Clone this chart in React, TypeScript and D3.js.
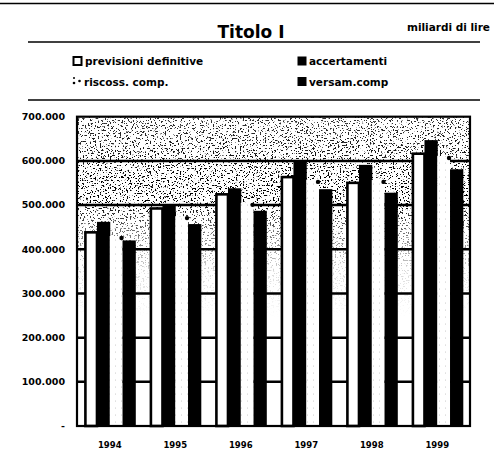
import React from "react";
import * as d3 from "d3";

const years = ["1994", "1995", "1996", "1997", "1998", "1999"];
const previsioni = [441, 495, 527, 566, 553, 619];
const accertamenti = [462, 501, 538, 598, 591, 647];
const riscossioni = [430, 475, 505, 557, 557, 611];
const versamenti = [420, 457, 487, 536, 528, 581];
const seriesNames = ["previsioni definitive", "accertamenti", "riscoss. comp.", "versam.comp"];
const yTicks = [0, 100, 200, 300, 400, 500, 600, 700];
const yTickLabels = ["-", "100.000", "200.000", "300.000", "400.000", "500.000", "600.000", "700.000"];

const W = 494;
const H = 463;
const FONT = "'DejaVu Sans', 'Liberation Sans', sans-serif";

export default function App() {
  const left = 77, right = 470, top = 116.7, bottom = 426;
  const x0 = d3.scaleBand<string>().domain(years).range([left, right]).paddingInner(0.22).paddingOuter(0.11);
  const x1 = d3.scaleBand<number>().domain([0, 1, 2, 3]).range([0, x0.bandwidth()]);
  const y = d3.scaleLinear().domain([0, 700]).range([bottom, top]);
  const data = [previsioni, accertamenti, riscossioni, versamenti];

  return (
    <svg width={W} height={H} style={{ position: "absolute", left: 0, top: 0, background: "#fff" }} fontFamily={FONT}>
      <defs>
        <pattern id="dots" width="6" height="7" patternUnits="userSpaceOnUse">
          <rect width="6" height="7" fill="#fff" />
          <circle cx="1.5" cy="2" r="0.5" fill="#bbb" />
        </pattern>
        <filter id="speck" x="0" y="0" width="100%" height="100%">
          <feTurbulence type="fractalNoise" baseFrequency="0.6" numOctaves="3" seed="11" result="n" />
          <feColorMatrix in="n" type="matrix" values="0 0 0 0 0  0 0 0 0 0  0 0 0 0 0  20 0 0 0 -12" />
        </filter>
        <linearGradient id="fade" x1="0" y1="0" x2="0" y2="1">
          <stop offset="0" stopColor="#fff" stopOpacity="0.8" />
          <stop offset="0.2" stopColor="#fff" stopOpacity="1" />
          <stop offset="0.28" stopColor="#fff" stopOpacity="1" />
          <stop offset="0.36" stopColor="#fff" stopOpacity="0.6" />
          <stop offset="0.5" stopColor="#fff" stopOpacity="0.15" />
          <stop offset="0.65" stopColor="#fff" stopOpacity="0" />
          <stop offset="1" stopColor="#fff" stopOpacity="0" />
        </linearGradient>
        <mask id="fadeMask" maskUnits="userSpaceOnUse" x={left} y={top} width={right - left} height={bottom - top}>
          <rect x={left} y={top} width={right - left} height={bottom - top} fill="url(#fade)" />
        </mask>
      </defs>

      {/* header */}
      <line x1={0} x2={W} y1={3.5} y2={3.5} stroke="#000" strokeWidth={1.5} />
      <text x={251} y={38} textAnchor="middle" fontSize={17} fontWeight="bold">Titolo I</text>
      <text x={490} y={31} textAnchor="end" fontSize={10.5} fontWeight="bold">miliardi di lire</text>
      <line x1={28} x2={480} y1={42} y2={42} stroke="#000" strokeWidth={1.5} />

      {/* legend */}
      <rect x={73.5} y={57} width={8} height={8} fill="#fff" stroke="#000" strokeWidth={2} />
      <text x={85} y={65} fontSize={10.5} fontWeight="bold">{seriesNames[0]}</text>
      <rect x={297.5} y={56.5} width={9} height={9} fill="#000" />
      <text x={309} y={65} fontSize={10.5} fontWeight="bold">{seriesNames[1]}</text>
      <circle cx={74} cy={78} r={1} fill="#000" />
      <circle cx={74} cy={83} r={1.3} fill="#000" />
      <circle cx={79.5} cy={81} r={1.3} fill="#000" />
      <text x={84} y={86} fontSize={10.5} fontWeight="bold">{seriesNames[2]}</text>
      <rect x={297.5} y={77} width={9} height={9} fill="#000" />
      <text x={309} y={86} fontSize={10.5} fontWeight="bold">{seriesNames[3]}</text>
      <line x1={28} x2={480} y1={100} y2={100} stroke="#000" strokeWidth={1.5} />

      {/* plot background */}
      <rect x={left} y={top} width={right - left} height={bottom - top} fill="#fff" />
      <g mask="url(#fadeMask)">
        <rect x={left} y={top} width={right - left} height={bottom - top} filter="url(#speck)" />
      </g>

      {/* gridlines */}
      {yTicks.slice(1, -1).map((t) => (
        <line key={t} x1={left} x2={right} y1={y(t)} y2={y(t)} stroke="#000" strokeWidth={2.5} />
      ))}

      {/* bars */}
      {years.map((yr, i) => {
        const gx = x0(yr)!;
        return (
          <g key={yr}>
            {data.map((s, k) => {
              const bx = gx + x1(k)!;
              const bw = x1.bandwidth();
              const by = y(s[i]);
              const bh = bottom - by;
              if (k === 0)
                return <rect key={k} x={bx + 1.2} y={by + 1.2} width={bw - 1.2} height={bh - 1.2} fill="#fff" stroke="#000" strokeWidth={2.6} />;
              if (k === 2)
                return (
                  <g key={k}>
                    <rect x={bx} y={by} width={bw} height={bh} fill="url(#dots)" />
                    <circle cx={bx + bw - 1} cy={by + 2} r={2.2} fill="#000" />
                  </g>
                );
              return <rect key={k} x={bx} y={by} width={bw + 0.5} height={bh} fill="#000" />;
            })}
          </g>
        );
      })}

      {/* frame */}
      <rect x={left} y={top} width={right - left} height={bottom - top} fill="none" stroke="#000" strokeWidth={2.2} />

      {/* y labels */}
      {yTicks.map((t, i) => (
        <text key={t} x={65} y={y(t)} dy="0.35em" textAnchor="end" fontSize={9.5} fontWeight="bold">
          {yTickLabels[i]}
        </text>
      ))}

      {/* x labels */}
      {years.map((yr) => (
        <text key={yr} x={x0(yr)! + x0.bandwidth() / 2} y={448} textAnchor="middle" fontSize={8.5} fontWeight="bold">
          {yr}
        </text>
      ))}
    </svg>
  );
}
